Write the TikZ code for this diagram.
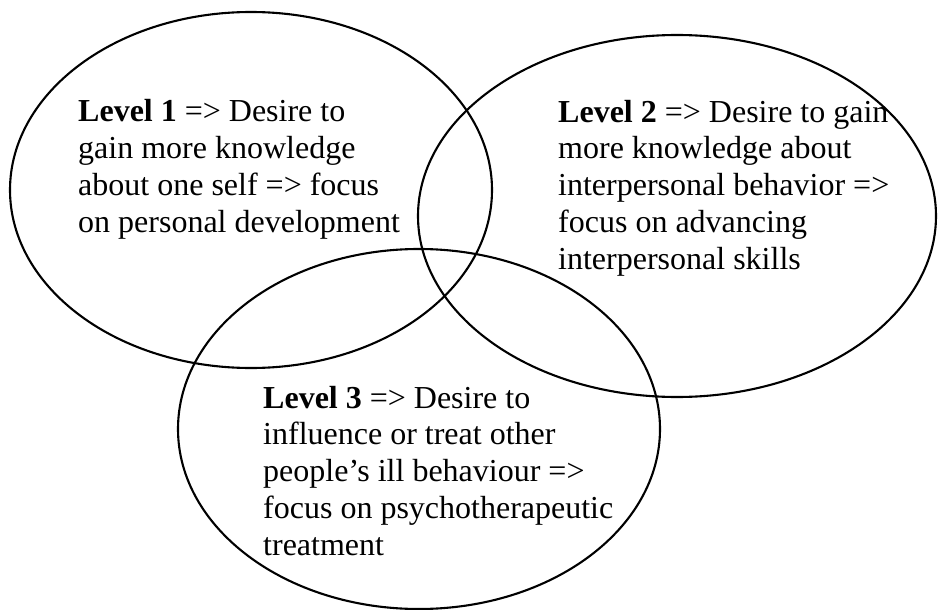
\documentclass[tikz,border=0pt]{standalone}
\usepackage{fontspec}
\setmainfont{Liberation Serif}
\tikzset{
  venn/.style={draw=black, line width=2.1pt},
  lvltext/.style={anchor=base west, align=left, inner sep=0pt, font=\fontsize{32}{36.7}\selectfont}
}
\begin{document}
\begin{tikzpicture}[x=1pt,y=-1pt]
\useasboundingbox (0,0) rectangle (938,610);
\draw[venn] (251,190) ellipse [x radius=241, y radius=178];
\draw[venn] (677,216) ellipse [x radius=259, y radius=181];
\draw[venn] (419,429) ellipse [x radius=241, y radius=180];
% base anchor of a multi-line node lies on its last line
\node[lvltext] (t1) at (78,232) {\textbf{Level 1} => Desire to\\gain more knowledge\\about one self => focus\\on personal development};
\node[lvltext] (t2) at (558,269) {\textbf{Level 2} => Desire to gain\\more knowledge about\\interpersonal behavior =>\\focus on advancing\\interpersonal skills};
\node[lvltext] (t3) at (263,555) {\textbf{Level 3} => Desire to\\influence or treat other\\people’s ill behaviour =>\\focus on psychotherapeutic\\treatment};
\end{tikzpicture}
\end{document}
